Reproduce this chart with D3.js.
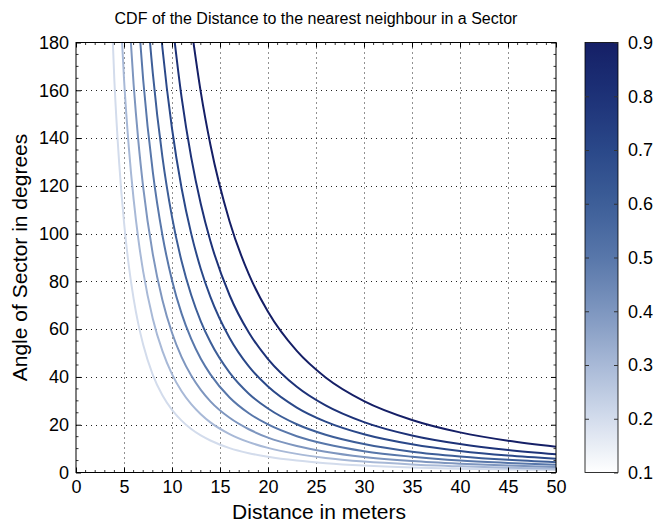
<!DOCTYPE html>
<html>
<head>
<meta charset="utf-8">
<script src="https://cdn.jsdelivr.net/npm/d3@7"></script>
<style>
  html, body { margin: 0; padding: 0; background: #fff; }
  svg { display: block; font-family: "Liberation Sans", Arial, Helvetica, sans-serif; }
</style>
</head>
<body>
<svg id="chart" width="657" height="524"></svg>
<script>
// ---------- data ----------
const titleText = "CDF of the Distance to the nearest neighbour in a Sector";
const xLabel = "Distance in meters";
const yLabel = "Angle of Sector in degrees";
const xTicks = [0, 5, 10, 15, 20, 25, 30, 35, 40, 45, 50];
const yTicks = [0, 20, 40, 60, 80, 100, 120, 140, 160, 180];
const cbTicks = [0.1, 0.2, 0.3, 0.4, 0.5, 0.6, 0.7, 0.8, 0.9];
const levels = [0.2, 0.3, 0.4, 0.5, 0.6, 0.7, 0.8, 0.9];

const dist_02 = [3.5, 4, 4.5, 5, 5.5, 6, 6.5, 7, 8, 9, 10, 11, 12, 13, 14, 16, 18, 20, 23, 26, 30, 35, 40, 45, 50];
const angle_02 = [213.9, 163.8, 129.4, 104.8, 86.6, 72.8, 62.0, 53.5, 40.9, 32.3, 26.2, 21.7, 18.2, 15.5, 13.4, 10.2, 8.1, 6.6, 5.0, 3.9, 2.9, 2.1, 1.6, 1.3, 1.0];

const dist_03 = [4.5, 5, 5.5, 6, 6.5, 7, 8, 9, 10, 11, 12, 13, 14, 16, 18, 20, 23, 26, 30, 35, 40, 45, 50];
const angle_03 = [203.5, 164.8, 136.2, 114.4, 97.5, 84.1, 64.4, 50.9, 41.2, 34.0, 28.6, 24.4, 21.0, 16.1, 12.7, 10.3, 7.8, 6.1, 4.6, 3.4, 2.6, 2.0, 1.6];

const dist_04 = [5.5, 6, 6.5, 7, 8, 9, 10, 11, 12, 13, 14, 16, 18, 20, 23, 26, 30, 35, 40, 45, 50];
const angle_04 = [193.4, 162.5, 138.5, 119.4, 91.4, 72.2, 58.5, 48.3, 40.6, 34.6, 29.8, 22.9, 18.1, 14.6, 11.1, 8.7, 6.5, 4.8, 3.7, 2.9, 2.3];

const dist_05 = [6.5, 7, 8, 9, 10, 11, 12, 13, 14, 16, 18, 20, 23, 26, 30, 35, 40, 45, 50];
const angle_05 = [190.5, 164.3, 125.8, 99.4, 80.5, 66.5, 55.9, 47.6, 41.1, 31.4, 24.8, 20.1, 15.2, 11.9, 8.9, 6.6, 5.0, 4.0, 3.2];

const dist_06 = [7, 7.5, 8, 9, 10, 11, 12, 13, 14, 16, 18, 20, 23, 26, 30, 35, 40, 45, 50];
const angle_06 = [218.4, 190.2, 167.2, 132.1, 107.0, 88.4, 74.3, 63.3, 54.6, 41.8, 33.0, 26.8, 20.2, 15.8, 11.9, 8.7, 6.7, 5.3, 4.3];

const dist_07 = [8, 8.5, 9, 10, 11, 12, 13, 14, 16, 18, 20, 23, 26, 30, 35, 40, 45, 50];
const angle_07 = [225.0, 199.3, 177.8, 144.0, 119.0, 100.0, 85.2, 73.5, 56.3, 44.4, 36.0, 27.2, 21.3, 16.0, 11.8, 9.0, 7.1, 5.8];

const dist_08 = [10, 11, 12, 13, 14, 16, 18, 20, 23, 26, 30, 35, 40, 45, 50];
const angle_08 = [190.0, 157.0, 131.9, 112.4, 96.9, 74.2, 58.6, 47.5, 35.9, 28.1, 21.1, 15.5, 11.9, 9.4, 7.6];

const dist_09 = [12, 13, 14, 16, 18, 20, 23, 26, 30, 35, 40, 45, 50];
const angle_09 = [186.8, 159.2, 137.2, 105.1, 83.0, 67.3, 50.9, 39.8, 29.9, 22.0, 16.8, 13.3, 10.8];

const colorStops = ["#ffffff", "#d3dcec", "#a8b9d7", "#7e96bf", "#5877aa", "#3d5e98", "#2a4889", "#1d3278", "#151f66"];

// ---------- layout ----------
const svg = d3.select("#chart");
const L = 76, R = 556, T = 42.5, B = 472.5;
const cbL = 585, cbR = 618;

const x = d3.scaleLinear().domain([0, 50]).range([L, R]);
const y = d3.scaleLinear().domain([0, 180]).range([B, T]);
const color = d3.scaleLinear().domain(cbTicks).range(colorStops).interpolate(d3.interpolateRgb);

const series = [
  [dist_02, angle_02], [dist_03, angle_03], [dist_04, angle_04], [dist_05, angle_05],
  [dist_06, angle_06], [dist_07, angle_07], [dist_08, angle_08], [dist_09, angle_09]
];

// clip
svg.append("defs").append("clipPath").attr("id", "plotclip")
  .append("rect").attr("x", L).attr("y", T).attr("width", R - L).attr("height", B - T);

// grid
const grid = svg.append("g").attr("stroke", "#222").attr("stroke-width", 1)
  .attr("stroke-dasharray", "1,4");
xTicks.slice(1, -1).forEach(v => {
  grid.append("line").attr("x1", Math.round(x(v)) + 0.5).attr("x2", Math.round(x(v)) + 0.5)
    .attr("y1", T).attr("y2", B);
});
yTicks.slice(1, -1).forEach(v => {
  grid.append("line").attr("y1", Math.round(y(v)) + 0.5).attr("y2", Math.round(y(v)) + 0.5)
    .attr("x1", L).attr("x2", R);
});

// lines
const line = d3.line().x(d => x(d[0])).y(d => y(d[1])).curve(d3.curveMonotoneX);
const lg = svg.append("g").attr("clip-path", "url(#plotclip)");
series.forEach((s, i) => {
  const pts = s[0].map((d, j) => [d, s[1][j]]);
  lg.append("path").datum(pts).attr("d", line)
    .attr("fill", "none").attr("stroke", color(levels[i]))
    .attr("stroke-width", 2).attr("stroke-linejoin", "round");
});

// axes box
svg.append("rect").attr("x", L).attr("y", T).attr("width", R - L).attr("height", B - T)
  .attr("fill", "none").attr("stroke", "#000").attr("stroke-width", 1);

// axes with inward ticks
const axB = d3.axisBottom(x).tickValues(xTicks).tickSizeInner(-5).tickSizeOuter(0).tickPadding(8);
const axL = d3.axisLeft(y).tickValues(yTicks).tickSizeInner(-5).tickSizeOuter(0).tickPadding(7);
const gB = svg.append("g").attr("transform", `translate(0,${B})`).call(axB);
const gL = svg.append("g").attr("transform", `translate(${L},0)`).call(axL);
const axT = d3.axisTop(x).tickValues(xTicks).tickSizeInner(-5).tickSizeOuter(0).tickFormat("");
const axR = d3.axisRight(y).tickValues(yTicks).tickSizeInner(-5).tickSizeOuter(0).tickFormat("");
const gT = svg.append("g").attr("transform", `translate(0,${T})`).call(axT);
const gR = svg.append("g").attr("transform", `translate(${R},0)`).call(axR);
[gB, gL, gT, gR].forEach(g => {
  g.select(".domain").remove();
  g.selectAll("text").attr("font-size", 18).attr("fill", "#000")
    .attr("font-family", "'Liberation Sans', Arial, sans-serif");
  g.selectAll("line").attr("stroke", "#000");
});

// minor ticks
const minorX = d3.range(0, 51, 1).filter(v => v % 5 !== 0);
const minorY = d3.range(0, 181, 5).filter(v => v % 20 !== 0);
const mg = svg.append("g").attr("stroke", "#000").attr("stroke-width", 0.8);
minorX.forEach(v => {
  mg.append("line").attr("x1", x(v)).attr("x2", x(v)).attr("y1", B).attr("y2", B - 2.5);
  mg.append("line").attr("x1", x(v)).attr("x2", x(v)).attr("y1", T).attr("y2", T + 2.5);
});
minorY.forEach(v => {
  mg.append("line").attr("y1", y(v)).attr("y2", y(v)).attr("x1", L).attr("x2", L + 2.5);
  mg.append("line").attr("y1", y(v)).attr("y2", y(v)).attr("x1", R).attr("x2", R - 2.5);
});

// titles
svg.append("text").attr("x", (L + R) / 2).attr("y", 24).attr("text-anchor", "middle")
  .attr("font-size", 16).text(titleText);
svg.append("text").attr("x", (L + R) / 2 + 3).attr("y", 519).attr("text-anchor", "middle")
  .attr("font-size", 21).text(xLabel);
svg.append("text").attr("transform", `translate(27,${(T + B) / 2}) rotate(-90)`)
  .attr("text-anchor", "middle").attr("font-size", 21).text(yLabel);

// colorbar
const cy = d3.scaleLinear().domain([0.1, 0.9]).range([B, T]);
const grad = svg.select("defs").append("linearGradient").attr("id", "cbgrad")
  .attr("x1", 0).attr("y1", 1).attr("x2", 0).attr("y2", 0);
d3.range(0, 1.0001, 0.05).forEach(t => {
  const v = 0.1 + 0.8 * t;
  grad.append("stop").attr("offset", t).attr("stop-color", color(v));
});
svg.append("rect").attr("x", cbL).attr("y", T).attr("width", cbR - cbL).attr("height", B - T)
  .attr("fill", "url(#cbgrad)").attr("stroke", "#000").attr("stroke-width", 0.8);
const cbAx = d3.axisRight(cy).tickValues(cbTicks).tickSizeInner(-4).tickSizeOuter(0)
  .tickPadding(10).tickFormat(d3.format(".1f"));
const gCB = svg.append("g").attr("transform", `translate(${cbR},0)`).call(cbAx);
gCB.select(".domain").remove();
gCB.selectAll("text").attr("font-size", 18).attr("fill", "#000");
gCB.selectAll("line").attr("stroke", "#333");
const cbAxL = d3.axisLeft(cy).tickValues(cbTicks.slice(1, -1)).tickSizeInner(-4).tickSizeOuter(0).tickFormat("");
const gCBL = svg.append("g").attr("transform", `translate(${cbL},0)`).call(cbAxL);
gCBL.select(".domain").remove();
gCBL.selectAll("line").attr("stroke", "#333");
</script>
</body>
</html>
